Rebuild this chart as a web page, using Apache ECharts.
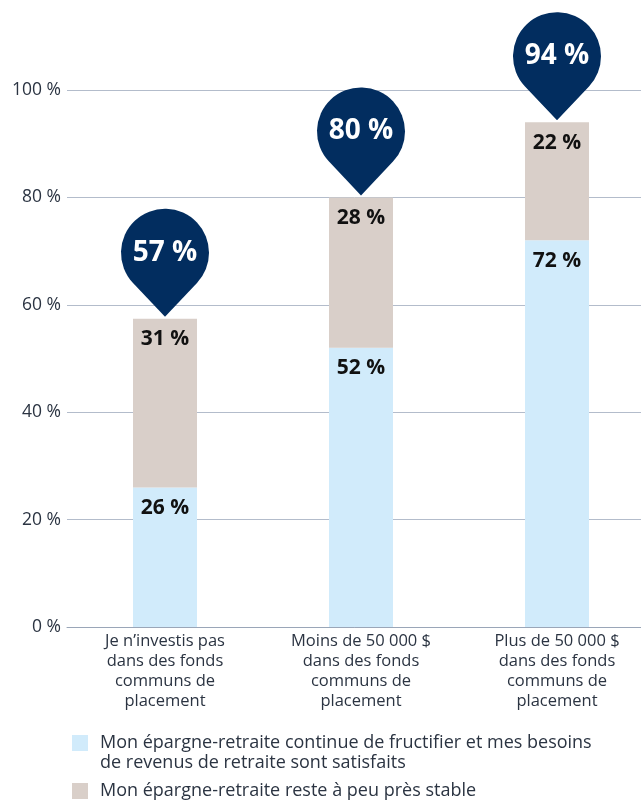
<!DOCTYPE html>
<html>
<head>
<meta charset="utf-8">
<script src="https://cdn.jsdelivr.net/npm/echarts@6/dist/echarts.min.js"></script>
<style>
html,body{margin:0;padding:0;background:#fff;}
#chart{width:641px;height:802px;}
</style>
</head>
<body>
<div id="chart"></div>
<script>
var categories = [
  "Je n’investis pas\ndans des fonds\ncommuns de\nplacement",
  "Moins de 50 000 $\ndans des fonds\ncommuns de\nplacement",
  "Plus de 50 000 $\ndans des fonds\ncommuns de\nplacement"
];
var seriesNames = [
  "Mon épargne-retraite continue de fructifier et mes besoins\nde revenus de retraite sont satisfaits",
  "Mon épargne-retraite reste à peu près stable"
];
var growingValues = [26, 52, 72];
var stableValues = [31.4, 28, 22];
var totalValues = [57.4, 80, 94];
var yTicks = [0, 20, 40, 60, 80, 100];

var FONT = "Open Sans";
var pinPath = "path://M12,74.2 A44,44 0 1 1 76,74.2 L44,108 Z";

function pct(p) {
  var v = Array.isArray(p.value) ? p.value[1] : p.value;
  return Math.round(v) + ' %';
}

var chart = echarts.init(document.getElementById('chart'), null, {renderer: 'canvas'});
chart.setOption({
  animation: false,
  textStyle: {fontFamily: FONT},
  grid: {left: 67, width: 588, top: 90, bottom: 175, containLabel: false, outerBoundsMode: 'none'},
  legend: [
    {
      data: [seriesNames[0]], left: 72, top: 713, padding: 0, orient: 'vertical',
      icon: 'rect', itemWidth: 16, itemHeight: 16, selectedMode: false,
      formatter: function (n) { return '\n' + n; },
      textStyle: {fontFamily: FONT, fontSize: 18, lineHeight: 20, color: '#2b3442', padding: [0, 0, 0, 7]}
    },
    {
      data: [seriesNames[1]], left: 72, top: 781, padding: 0, orient: 'vertical',
      icon: 'rect', itemWidth: 16, itemHeight: 16, selectedMode: false,
      textStyle: {fontFamily: FONT, fontSize: 18, lineHeight: 20, color: '#2b3442', padding: [0, 0, 0, 7]}
    }
  ],
  xAxis: {
    type: 'category', data: categories,
    axisTick: {show: false},
    axisLine: {lineStyle: {color: '#9aa6b8', width: 1}},
    axisLabel: {fontFamily: FONT, fontSize: 16.5, lineHeight: 20, color: '#2b3442', margin: 4, interval: 0}
  },
  yAxis: {
    type: 'value', min: yTicks[0], max: yTicks[yTicks.length - 1], interval: yTicks[1] - yTicks[0],
    axisLine: {show: false}, axisTick: {show: false},
    splitLine: {lineStyle: {color: '#b3bccb', width: 1}},
    axisLabel: {fontFamily: FONT, fontSize: 17.5, color: '#2b3442', margin: 6, formatter: '{value} %'}
  },
  series: [
    {
      name: seriesNames[0], type: 'bar', stack: 'total', barWidth: 64, data: growingValues,
      itemStyle: {color: '#d1ebfb'},
      label: {show: true, position: 'insideTop', distance: 10, formatter: pct,
        fontFamily: FONT, fontSize: 21, fontWeight: 'bold', color: '#111111'},
      silent: true
    },
    {
      name: seriesNames[1], type: 'bar', stack: 'total', barWidth: 64, data: stableValues,
      itemStyle: {color: '#d9cfc9'},
      label: {show: true, position: 'insideTop', distance: 10, formatter: pct,
        fontFamily: FONT, fontSize: 21, fontWeight: 'bold', color: '#111111'},
      silent: true
    },
    {
      name: 'Total', type: 'scatter', data: totalValues, z: 10,
      symbol: pinPath, symbolSize: [88, 108], symbolOffset: [0, -56],
      itemStyle: {color: '#022d5f', opacity: 1},
      label: {show: true, position: 'inside', offset: [0, -10], formatter: pct,
        fontFamily: FONT, fontSize: 28, fontWeight: 'bold', color: '#ffffff'},
      silent: true
    }
  ]
});
</script>
</body>
</html>
